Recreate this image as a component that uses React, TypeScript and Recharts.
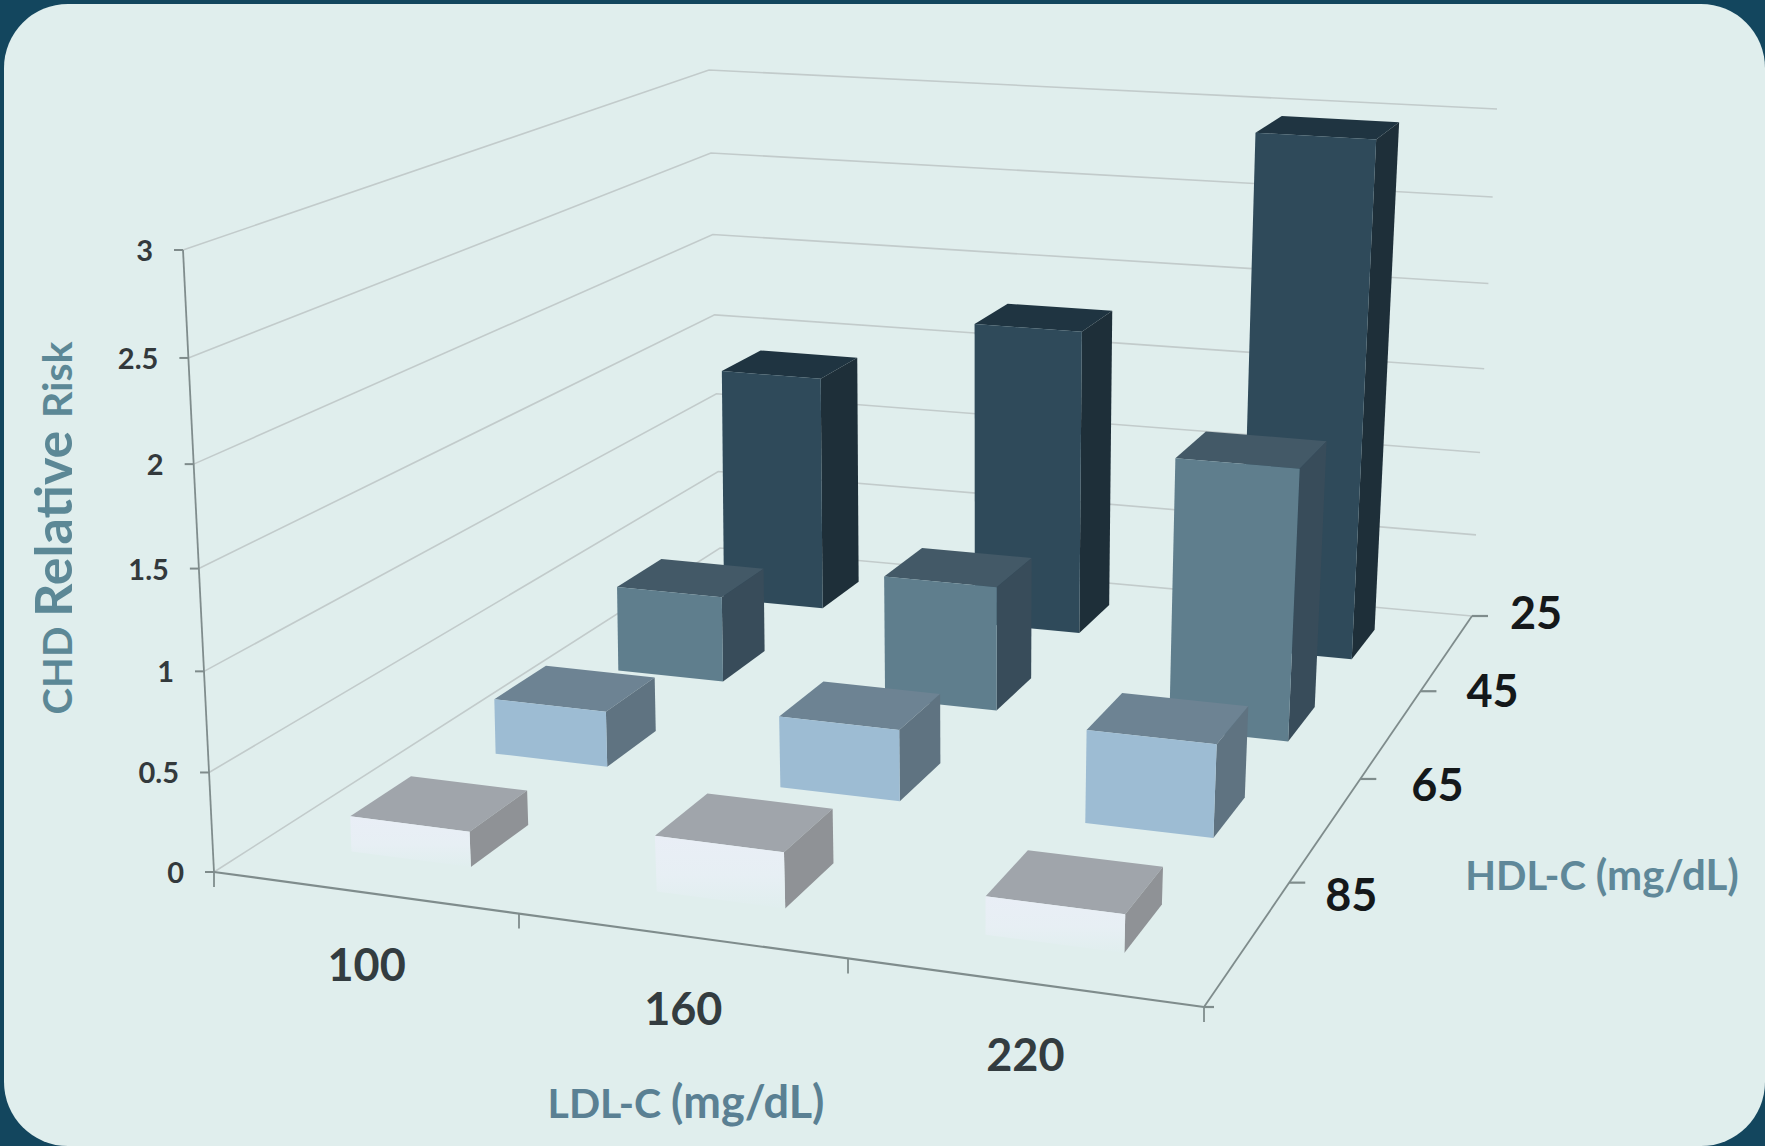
import React from 'react';
import { ScatterChart, Scatter, XAxis, YAxis } from 'recharts';

// Chart values
const ldlLabels = ['100', '160', '220'];
const hdlLabels = ['25', '45', '65', '85'];
const riskAt25 = [1.4, 1.79, 2.97];
const riskAt45 = [0.49, 0.7, 1.5];
const riskAt65 = [0.3, 0.38, 0.49];
const riskAt85 = [0.18, 0.28, 0.19];
const riskTicks = [0, 0.5, 1, 1.5, 2, 2.5, 3];

const W = 1765;
const H = 1146;
type Pt = [number, number];

// Perspective map from the unit square onto a quadrilateral
function quadMap(p0: Pt, p1: Pt, p2: Pt, p3: Pt) {
  const dx1 = p1[0] - p2[0], dx2 = p3[0] - p2[0], sx = p0[0] - p1[0] + p2[0] - p3[0];
  const dy1 = p1[1] - p2[1], dy2 = p3[1] - p2[1], sy = p0[1] - p1[1] + p2[1] - p3[1];
  const den = dx1 * dy2 - dx2 * dy1;
  const g = (sx * dy2 - dx2 * sy) / den;
  const h = (dx1 * sy - sx * dy1) / den;
  const a = p1[0] - p0[0] + g * p1[0], b = p3[0] - p0[0] + h * p3[0];
  const d = p1[1] - p0[1] + g * p1[1], e = p3[1] - p0[1] + h * p3[1];
  return (s: number, t: number): Pt => {
    const q = g * s + h * t + 1;
    return [(a * s + b * t + p0[0]) / q, (d * s + e * t + p0[1]) / q];
  };
}

const floorMap = quadMap([214, 872], [1204, 1007], [1472, 616], [720, 548]);
const ceilingMap = quadMap([183, 250], [1223, 347], [1497, 109], [709, 70]);

// Heights foreshorten slightly towards the floor
const HEIGHT_PERSPECTIVE = 0.05;
const heightFraction = (w: number) => {
  const t = w / 3;
  return t / (1 + HEIGHT_PERSPECTIVE * (1 - t));
};

// u: 0..3 along LDL, v: 0..4 from front to back, w: risk 0..3
const project = (u: number, v: number, w: number): Pt => {
  const f = floorMap(u / 3, v / 4);
  const c = ceilingMap(u / 3, v / 4);
  const k = heightFraction(w);
  return [f[0] + (c[0] - f[0]) * k, f[1] + (c[1] - f[1]) * k];
};

const HALF_U = 0.2;
const HALF_V = 0.2;
const BAR_LEAN = 8;

// Bars tip a little further right than the wall edges
const projectBar = (u: number, v: number, w: number): Pt => {
  const p = project(u, v, w);
  return [p[0] + BAR_LEAN * (w / 3), p[1]];
};

type Face = { front: string; top: string; side: string };
const palette: Record<string, Face> = {
  '25': { front: '#2f4a5a', top: '#1f3441', side: '#1e2f39' },
  '45': { front: '#5f7e8d', top: '#435967', side: '#384c5a' },
  '65': { front: '#9dbcd3', top: '#6d8393', side: '#5f7381' },
  '85': { front: 'url(#paleFront)', top: '#a0a5ab', side: '#8f9296' },
};

const barRows = (values: number[], hdlIndex: number) =>
  values.map((risk, i) => {
    const u = i + 0.5;
    const v = 3.5 - hdlIndex;
    const [px, py] = project(u, v, 0);
    return { px, py, u, v, risk, hdl: hdlLabels[hdlIndex] };
  });

const poly = (pts: Pt[], dx: number, dy: number) =>
  pts.map((p) => `${p[0] + dx},${p[1] + dy}`).join(' ');

const BarBlock = (props: any) => {
  const { cx, cy, payload } = props;
  const { u, v, risk, hdl, px, py } = payload;
  const dx = cx - px, dy = cy - py;
  const l = u - HALF_U, r = u + HALF_U, n = v - HALF_V, b = v + HALF_V;
  const c = palette[hdl];
  return (
    <g>
      <polygon points={poly([projectBar(l, n, risk), projectBar(r, n, risk), projectBar(r, b, risk), projectBar(l, b, risk)], dx, dy)} fill={c.top} />
      <polygon points={poly([projectBar(r, n, 0), projectBar(r, b, 0), projectBar(r, b, risk), projectBar(r, n, risk)], dx, dy)} fill={c.side} />
      <polygon points={poly([projectBar(l, n, 0), projectBar(r, n, 0), projectBar(r, n, risk), projectBar(l, n, risk)], dx, dy)} fill={c.front} />
    </g>
  );
};

// Wall and floor gridlines with the risk tick labels
const gridData = riskTicks.map((risk) => {
  const [px, py] = project(0, 0, risk);
  return { px, py, risk };
});

const GridLevel = (props: any) => {
  const { cx, cy, payload } = props;
  const dx = cx - payload.px, dy = cy - payload.py;
  const pts = [project(0, 0, payload.risk), project(0, 4, payload.risk), project(3, 4, payload.risk)];
  const a = pts[0];
  return (
    <g>
      <polyline points={poly(pts, dx, dy)} fill="none" stroke="#c2cbcb" strokeWidth={1.6} />
      <line x1={a[0] + dx - 9} y1={a[1] + dy} x2={a[0] + dx} y2={a[1] + dy} stroke="#7f8b8b" strokeWidth={2} />
      <text x={a[0] + dx - 30} y={a[1] + dy + 11} textAnchor="end" fontFamily="Lato" fontWeight={700} fontSize={29} fill="#33393c">
        {payload.risk}
      </text>
    </g>
  );
};

const axisAnchor = [{ px: project(0, 0, 0)[0], py: project(0, 0, 0)[1] }];

const AxisFrame = (props: any) => {
  const { cx, cy, payload } = props;
  const dx = cx - payload.px, dy = cy - payload.py;
  const t = (p: Pt): Pt => [p[0] + dx, p[1] + dy];
  const a = t(project(0, 0, 0));
  const top = t(project(0, 0, 3));
  const b = t(project(3, 0, 0));
  const c = t(project(3, 4, 0));
  return (
    <g stroke="#7f8c8c" fill="none">
      <line x1={top[0]} y1={top[1]} x2={a[0]} y2={a[1]} strokeWidth={1.8} />
      <line x1={a[0]} y1={a[1]} x2={b[0]} y2={b[1]} strokeWidth={2.2} />
      <line x1={b[0]} y1={b[1]} x2={c[0]} y2={c[1]} strokeWidth={1.8} />
      {[0, 1, 2, 3].map((i) => {
        const q = t(project(i, 0, 0));
        return <line key={i} x1={q[0]} y1={q[1]} x2={q[0]} y2={q[1] + 15} strokeWidth={1.8} />;
      })}
      {[0, 1, 2, 3, 4].map((i) => {
        const q = t(project(3, i, 0));
        return <line key={i} x1={q[0]} y1={q[1]} x2={q[0] + (i === 0 ? 10 : 16)} y2={q[1]} strokeWidth={2.2} />;
      })}
    </g>
  );
};

// LDL categories sit under the middle of each cell
const ldlData = ldlLabels.map((name, i) => {
  const [px, py] = project(i + 0.5, 0, 0);
  return { px, py, name };
});
const LdlLabel = (props: any) => (
  <text x={props.cx + 3} y={props.cy + 89} textAnchor="middle" fontFamily="Lato" fontWeight={700} fontSize={45} fill="#333c40">
    {props.payload.name}
  </text>
);

// HDL categories sit beside the tick that closes each cell
const hdlNudgeX = [2, 10, 15, 0];
const hdlNudgeY = [-2, 1, 7, 13];
const hdlData = hdlLabels.map((name, i) => {
  const [px, py] = project(3, 4 - i, 0);
  return { px: px + hdlNudgeX[i], py: py + hdlNudgeY[i], name };
});
const HdlLabel = (props: any) => (
  <text x={props.cx + 36} y={props.cy + 15} textAnchor="start" fontFamily="Lato" fontWeight={700} fontSize={45} fill="#14181a">
    {props.payload.name}
  </text>
);

// Axis titles, placed by page position
const titleData = [{ px: 56, py: 528, kind: 'risk' }, { px: 686, py: 1118, kind: 'ldl' }, { px: 1602, py: 890, kind: 'hdl' }];
const TitleText = (props: any) => {
  const { cx, cy, payload } = props;
  if (payload.kind === 'risk') {
    return (
      <text x={cx} y={cy} transform={`rotate(-90 ${cx} ${cy})`} dy={16} textAnchor="middle" fontFamily="Lato" fontWeight={700} fill="#5c8896">
        <tspan fontSize={40}>CHD </tspan>
        <tspan fontSize={52}>Relative </tspan>
        <tspan fontSize={41}>Risk</tspan>
      </text>
    );
  }
  const isLdl = payload.kind === 'ldl';
  return (
    <text x={cx} y={cy} textAnchor="middle" fontFamily="Lato" fontWeight={700} fill={isLdl ? '#5a8093' : '#5f8899'}>
      <tspan fontSize={isLdl ? 41 : 40}>{isLdl ? 'LDL-C ' : 'HDL-C '}</tspan>
      <tspan fontSize={isLdl ? 45 : 42}>(mg/dL)</tspan>
    </text>
  );
};

const rowsBackToFront = [
  barRows(riskAt25, 0),
  barRows(riskAt45, 1),
  barRows(riskAt65, 2),
  barRows(riskAt85, 3),
];

export default function App() {
  return (
    <div style={{ position: 'absolute', left: 0, top: 0, width: W, height: H, background: '#13465e', overflow: 'hidden' }}>
      <div style={{ position: 'absolute', left: 4, top: 4, width: W - 4, height: H - 4, background: '#e0eeed', borderRadius: 64 }} />
      <div style={{ position: 'absolute', left: 0, top: 0 }}>
        <ScatterChart width={W} height={H} margin={{ top: 0, right: 0, bottom: 0, left: 0 }}>
          <defs>
            <linearGradient id="paleFront" x1="0" y1="0" x2="0" y2="1">
              <stop offset="0%" stopColor="#e9eef6" />
              <stop offset="55%" stopColor="#e7eff4" />
              <stop offset="100%" stopColor="#e0eeee" />
            </linearGradient>
          </defs>
          <XAxis type="number" dataKey="px" domain={[0, W]} hide />
          <YAxis type="number" dataKey="py" domain={[0, H]} reversed hide />
          <Scatter data={gridData} shape={GridLevel} isAnimationActive={false} />
          <Scatter data={axisAnchor} shape={AxisFrame} isAnimationActive={false} />
          {rowsBackToFront.map((row, i) => (
            <Scatter key={hdlLabels[i]} data={row} shape={BarBlock} isAnimationActive={false} />
          ))}
          <Scatter data={ldlData} shape={LdlLabel} isAnimationActive={false} />
          <Scatter data={hdlData} shape={HdlLabel} isAnimationActive={false} />
          <Scatter data={titleData} shape={TitleText} isAnimationActive={false} />
        </ScatterChart>
      </div>
    </div>
  );
}
